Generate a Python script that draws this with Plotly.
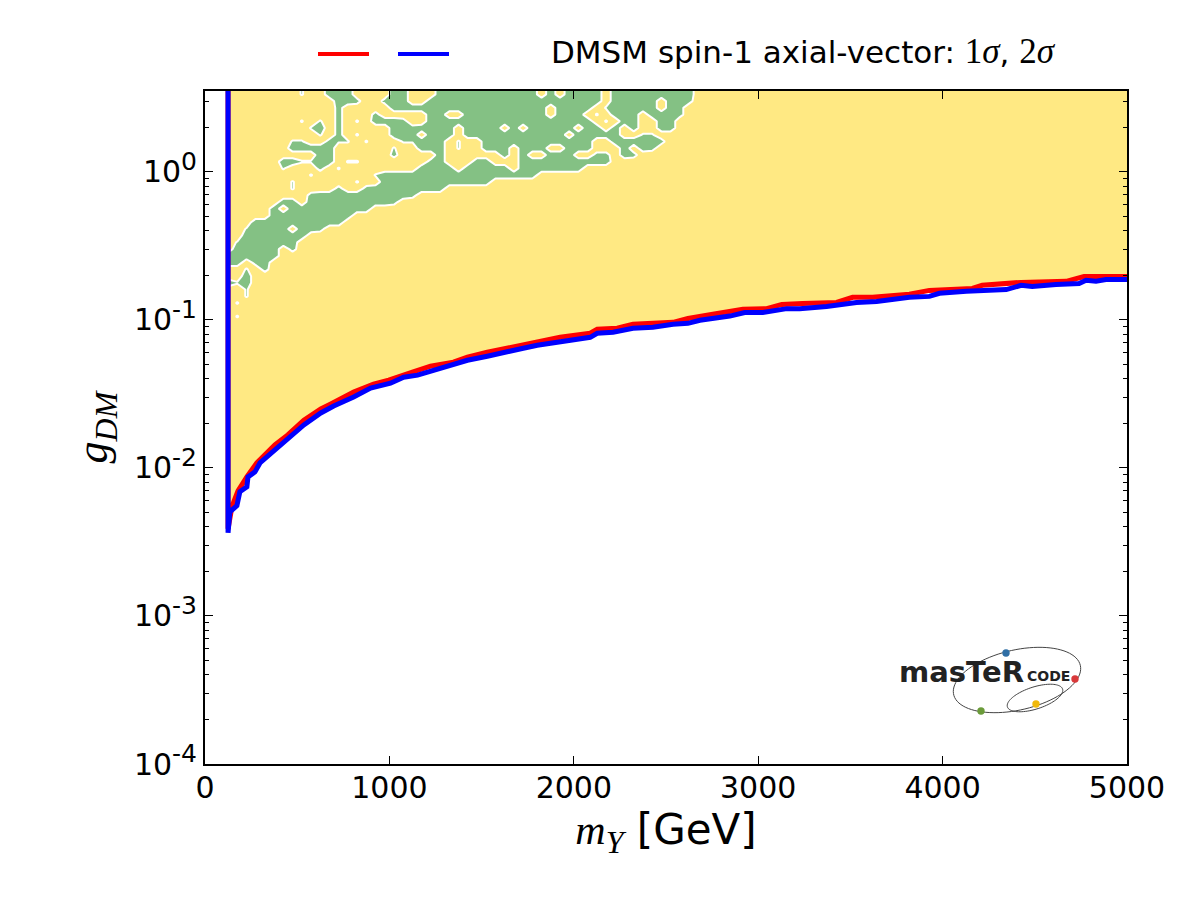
import numpy as np
import plotly.graph_objects as go

# 2-sigma boundary of the DMSM spin-1 axial-vector scan
blue_m = [125, 125, 135, 173, 189, 227, 233, 271, 298, 390, 449, 536, 628, 698, 806, 898, 1006, 1077, 1153, 1261,
          1347, 1423, 1531, 1618, 1726, 1802, 1910, 2089, 2127, 2213, 2321, 2429, 2538, 2619, 2684, 2846, 2927,
          3025, 3155, 3225, 3371, 3496, 3533, 3642, 3820, 3928, 3983, 4129, 4345, 4426, 4486, 4615, 4740, 4778,
          4832, 4886, 5000]
blue_g = [3.51, 3.65e-3, 5.05e-3, 5.55e-3, 6.89e-3, 7.45e-3, 8.69e-3, 9.40e-3, 1.08e-2, 1.36e-2, 1.59e-2, 1.95e-2,
          2.35e-2, 2.62e-2, 3.01e-2, 3.46e-2, 3.73e-2, 4.10e-2, 4.23e-2, 4.64e-2, 4.94e-2, 5.33e-2, 5.68e-2,
          6.04e-2, 6.43e-2, 6.73e-2, 7.05e-2, 7.62e-2, 8.11e-2, 8.24e-2, 8.77e-2, 8.90e-2, 9.33e-2, 9.47e-2,
          9.93e-2, 0.106, 0.112, 0.112, 0.119, 0.119, 0.123, 0.129, 0.131, 0.133, 0.142, 0.144, 0.151, 0.156,
          0.160, 0.171, 0.168, 0.173, 0.176, 0.185, 0.182, 0.187, 0.187]

# 1-sigma boundary
red_m = [125, 125, 146, 179, 227, 281, 379, 449, 536, 628, 682, 806, 914, 996, 1125, 1223, 1347, 1423, 1531, 1640,
         1726, 1834, 1926, 2089, 2127, 2235, 2321, 2538, 2619, 2754, 2830, 2917, 3046, 3128, 3241, 3425, 3512,
         3620, 3820, 3928, 4161, 4215, 4426, 4578, 4670, 4767, 4864, 5000]
red_g = [3.51, 3.88e-3, 5.46e-3, 7.00e-3, 8.69e-3, 1.08e-2, 1.43e-2, 1.67e-2, 2.10e-2, 2.50e-2, 2.70e-2, 3.25e-2,
         3.68e-2, 3.91e-2, 4.43e-2, 4.86e-2, 5.18e-2, 5.59e-2, 6.04e-2, 6.43e-2, 6.84e-2, 7.28e-2, 7.62e-2,
         8.11e-2, 8.63e-2, 8.77e-2, 9.33e-2, 9.62e-2, 0.102, 0.109, 0.114, 0.118, 0.119, 0.127, 0.129, 0.131,
         0.142, 0.142, 0.149, 0.158, 0.163, 0.171, 0.179, 0.182, 0.182, 0.196, 0.196, 0.196]

# Scan grid: mass nodes every 50 GeV, coupling nodes 22 per decade
first_col, last_col = 2, 53
mass_step = 50
mass_offset = 25
top_log_g = 0.5227
rows_per_decade = 22

# Nodes of the best-fit region, one entry per grid row from the top down.
# "a-b" is a column span, "+" marks a node just inside the level, "o" one moderately inside.
green_rows = [
    "10+ 13-15 20-21 25-35 37 39-42 44-52",
    "14-15 16o 19o 20-21 24-42 44-48 50-51 52o",
    "14o 20-36 38-41 43+ 44-48 50 51o",
    "14o 18o 24-25 28-36 38-40 42+ 44-46 48-50 51o",
    "10+ 12+ 14o 16+ 18-20 21o 24-41 43+ 45-46 49-50",
    "11+ 12 14o 20-21 22o 23-26 28-31 33 35-39 41-42 44 46 49-50",
    "12+ 14o 16+ 20-22 24-26 28-38 40-44 47+ 48+",
    "9+ 10+ 13o 14+ 15+ 17+ 21+ 22+ 23-25 27+ 30-41 44-48 49o",
    "9-13 20+ 23-25 27+ 30-32 34-36 39-41 45 47 48o",
    "12-13 20o 25 32 34 37-39 42o 43o 45 46o",
    "8-9 10+ 11+ 12-13 15+ 16+ 24o 25 29-30 34-43",
    "8+ 12o 14+ 23-26 28-32 34-40",
    "11+ 18+ 19-35",
    "9+ 16+ 19-30",
    "9+ 14o 17o 18-25",
    "11o 12-21 22o",
    "8-9 11-19 20o",
    "7 9-17",
    "7-15",
    "5-14",
    "4+ 5-8 10-11 12o",
    "4-10",
    "3+ 4-9",
    "3-7 9o",
    "2-7",
    "2-3 5o 6",
    "4+ 6o",
    "4",
    "2 3+ 4",
    "4+",
    "4+",
    "3+",
    "",
    "3+",
    "",
]

y_range = [-4, 0.5455]
x_ticks = [0, 1000, 2000, 3000, 4000, 5000]
y_tick_vals = [1e-4, 1e-3, 1e-2, 1e-1, 1e0]
y_exponents = ["-4", "-3", "-2", "-1", "0"]

RED = "#ff0000"
BLUE = "#0000ff"
GREEN = "#84c184"
YELLOW = "#ffe983"
CLEAR = "rgba(255,233,131,0)"
MATH = "Liberation Serif"
SANS = "DejaVu Sans"

WIDTH, HEIGHT = 1200, 900
LEFT, RIGHT, TOP, BOTTOM = 205, 73, 91, 136
plot_w = WIDTH - LEFT - RIGHT
plot_h = HEIGHT - TOP - BOTTOM


def px_x(px):
    return (px - LEFT) / plot_w


def px_y(py):
    return 1 - (py - TOP) / plot_h


def node_values():
    """Expand the row descriptions into a value grid: 1 deep inside, 0 outside."""
    levels = {"": 1.0, "o": 0.8, "+": 0.58}
    cols = np.arange(first_col, last_col + 1)
    z = np.zeros((len(green_rows), len(cols)))
    for r, row in enumerate(green_rows):
        for token in row.split():
            mark = token[-1] if token[-1] in "o+" else ""
            span = token.rstrip("o+").split("-")
            a, b = int(span[0]), int(span[-1])
            z[r, a - first_col:b - first_col + 1] = levels[mark]
    return cols, z


cols, z = node_values()
contour_m = mass_offset + mass_step * cols
# one extra row above the frame so the region runs up to the top edge
z = np.vstack([z[0], z])
rows = np.arange(-1, len(green_rows))
contour_g = 10.0 ** (top_log_g - rows / rows_per_decade)

fig = go.Figure()


def clear_below(color):
    """Scale for two contour levels: nothing under the first level, the colour over it."""
    return [[0, CLEAR], [0.25, CLEAR], [0.25, color], [1, color]]


# Allowed band: positive above the 1-sigma boundary, evaluated at that boundary's own mass nodes
band_m = np.array(red_m[1:], dtype=float)
band_edge = np.log10(np.array(red_g[1:]))
band_log_g = np.linspace(-3, y_range[1] + 0.05, 400)
band_z = band_log_g[:, None] - band_edge[None, :]
fig.add_trace(go.Contour(
    x=band_m.tolist(), y=(10.0 ** band_log_g).tolist(), z=band_z.tolist(),
    showscale=False, autocontour=False,
    contours=dict(start=0, end=10, size=10, coloring="fill", showlines=False),
    colorscale=clear_below(YELLOW),
    line=dict(width=0, smoothing=0), hoverinfo="skip",
))

fig.add_trace(go.Contour(
    x=contour_m.tolist(), y=contour_g[::-1].tolist(), z=z[::-1].tolist(),
    showscale=False, autocontour=False,
    contours=dict(start=0.5, end=1.5, size=1, coloring="fill", showlines=True),
    colorscale=clear_below(GREEN),
    line=dict(color="white", width=2, smoothing=0),
    hoverinfo="skip",
))

fig.add_trace(go.Scatter(x=red_m, y=red_g, mode="lines", line=dict(color=RED, width=5), showlegend=False))
fig.add_trace(go.Scatter(x=blue_m, y=blue_g, mode="lines", line=dict(color=BLUE, width=5), showlegend=False))

minor_vals = [m * 10.0 ** e for e in range(-4, 1) for m in range(2, 10)]
y_tick_text = [f"10<sup><span style='font-size:25px'>{e}</span></sup>" for e in y_exponents]

axis_common = dict(
    showgrid=False, zeroline=False, showline=True, linecolor="black", linewidth=2,
    mirror="allticks", ticks="inside", ticklen=8, tickwidth=1, tickcolor="black",
    tickfont=dict(family=SANS, size=30, color="black"),
)

fig.update_xaxes(
    range=[0, 5000], tickmode="array", tickvals=x_ticks, ticklabelstandoff=-4,
    title=dict(text=f"<span style='font-family:{MATH}'><i>m</i><sub><span style='font-size:32px'><i>Y</i></span></sub></span> [GeV]",
               font=dict(family=SANS, size=42, color="black"), standoff=6),
    **axis_common,
)
fig.update_yaxes(
    type="log", range=y_range, tickmode="array", tickvals=y_tick_vals, ticktext=y_tick_text,
    minor=dict(tickmode="array", tickvals=minor_vals, ticks="inside", ticklen=4, tickwidth=1, tickcolor="black"),
    title=dict(text="<i>g</i><sub><span style='font-size:32px'><i>DM</i></span></sub>",
               font=dict(family=MATH, size=44, color="black"), standoff=12),
    **axis_common,
)


def ellipse_path(cx, cy, a, b, angle_deg):
    t = np.linspace(0, 2 * np.pi, 90)
    th = np.radians(angle_deg)
    xs = cx + a * np.cos(t) * np.cos(th) - b * np.sin(t) * np.sin(th)
    ys = cy + a * np.cos(t) * np.sin(th) + b * np.sin(t) * np.cos(th)
    pts = [f"{px_x(x):.5f},{px_y(y):.5f}" for x, y in zip(xs, ys)]
    return "M" + " L".join(pts) + " Z"


def dot(cx, cy, color, r=3.7):
    return dict(type="circle", xref="paper", yref="paper", x0=px_x(cx - r), x1=px_x(cx + r),
                y0=px_y(cy + r), y1=px_y(cy - r), fillcolor=color, line=dict(width=0), layer="above")


def key_line(x0, x1, y, color):
    return dict(type="line", xref="paper", yref="paper", x0=px_x(x0), x1=px_x(x1), y0=px_y(y), y1=px_y(y),
                line=dict(color=color, width=4))


shapes = [
    key_line(318, 369, 54, RED),
    key_line(398, 449, 54, BLUE),
    dict(type="path", xref="paper", yref="paper", path=ellipse_path(1017, 680, 65, 30, -13),
         line=dict(color="#444444", width=1), layer="above"),
    dict(type="path", xref="paper", yref="paper", path=ellipse_path(1035, 698, 29, 11, -18),
         line=dict(color="#444444", width=1), layer="above"),
    dot(1006, 653, "#2f6ea5"),
    dot(1075, 679, "#d8393a"),
    dot(981, 711, "#6b9b3a"),
    dot(1036, 704, "#f0b90b"),
]

math_style = f"font-family:{MATH};font-size:35px"
annotations = [
    dict(text=f"DMSM spin-1 axial-vector: <span style='{math_style}'>1<i>σ</i></span>, "
              f"<span style='{math_style}'>2<i>σ</i></span>",
         xref="paper", yref="paper", x=px_x(549), y=px_y(52), xanchor="left", yanchor="middle",
         showarrow=False, font=dict(family=SANS, size=31, color="black")),
    dict(text="<b>masTeR</b>", xref="paper", yref="paper", x=px_x(897), y=px_y(672), xanchor="left",
         yanchor="middle", showarrow=False, font=dict(family=SANS, size=29, color="#222222")),
    dict(text="<b>CODE</b>", xref="paper", yref="paper", x=px_x(1025), y=px_y(676), xanchor="left",
         yanchor="middle", showarrow=False, font=dict(family=SANS, size=14, color="#222222")),
]

fig.update_layout(
    width=WIDTH, height=HEIGHT, autosize=False,
    margin=dict(l=LEFT, r=RIGHT, t=TOP, b=BOTTOM, pad=0),
    paper_bgcolor="white", plot_bgcolor="white",
    showlegend=False, shapes=shapes, annotations=annotations,
)

fig.write_html("out.html")
